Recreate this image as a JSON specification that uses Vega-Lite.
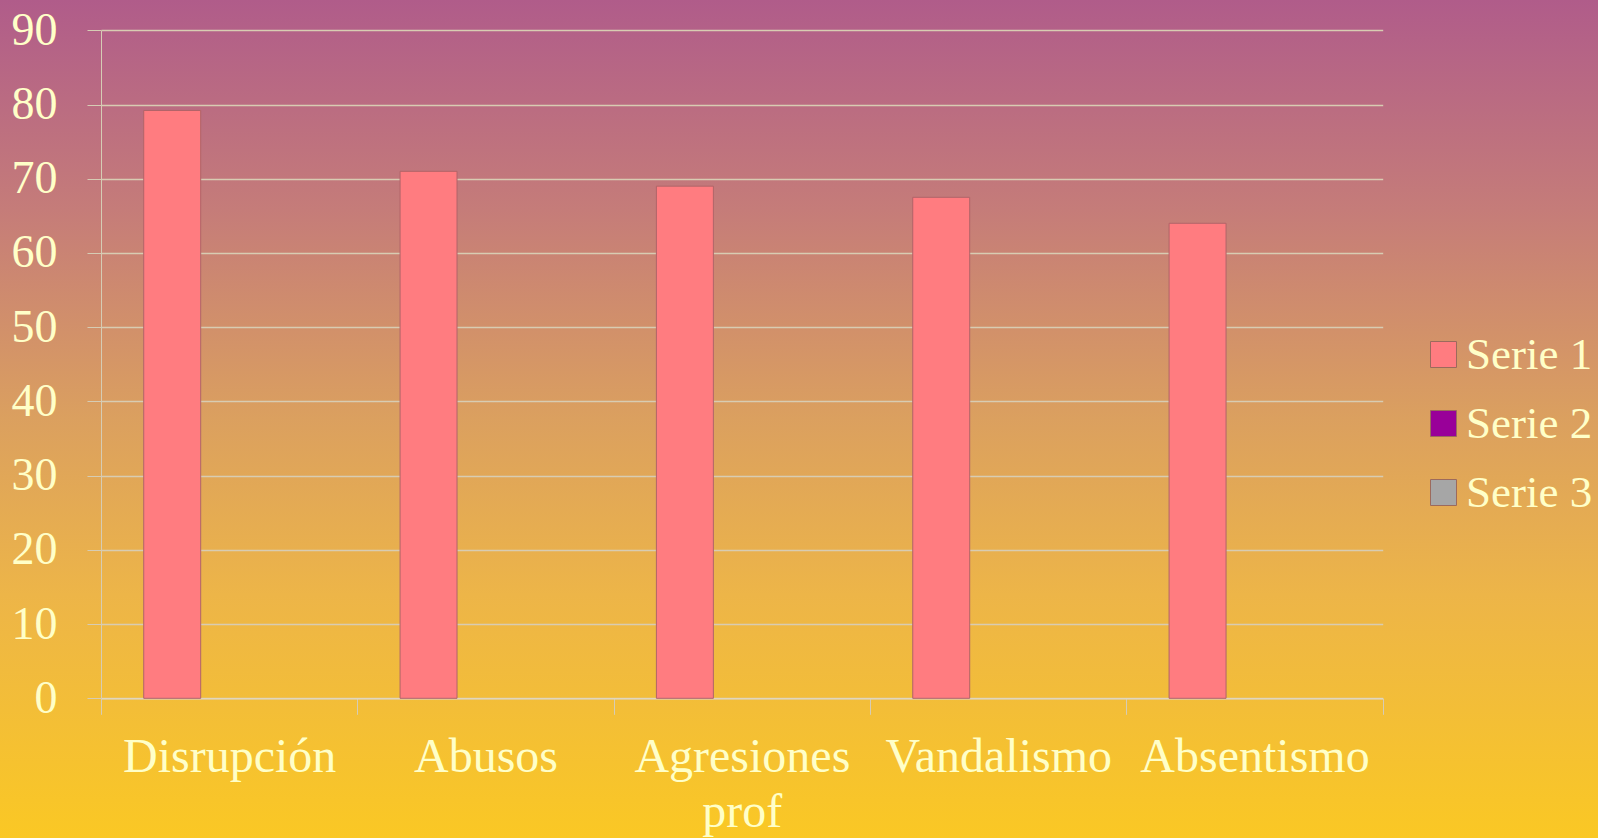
{
  "$schema": "https://vega.github.io/schema/vega-lite/v6.json",
  "width": 1598,
  "height": 838,
  "autosize": {"type": "none"},
  "padding": 0,
  "background": "#E0A860",
  "view": {
    "fill": {
      "gradient": "linear",
      "x1": 0, "y1": 0, "x2": 0, "y2": 1,
      "stops": [
        {"offset": 0, "color": "#B05C8A"},
        {"offset": 0.25, "color": "#C57C79"},
        {"offset": 0.5, "color": "#DBA05F"},
        {"offset": 0.71, "color": "#EDB548"},
        {"offset": 1, "color": "#FAC824"}
      ]
    },
    "stroke": null
  },
  "data": {
    "values": [
      {"categoria": "Disrupción", "serie": "Serie 1", "valor": 79.2},
      {"categoria": "Abusos", "serie": "Serie 1", "valor": 71},
      {"categoria": "Agresiones prof", "serie": "Serie 1", "valor": 69},
      {"categoria": "Vandalismo", "serie": "Serie 1", "valor": 67.5},
      {"categoria": "Absentismo", "serie": "Serie 1", "valor": 64}
    ]
  },
  "mark": {"type": "bar", "stroke": "#B06468", "strokeWidth": 1},
  "encoding": {
    "x": {
      "field": "categoria",
      "type": "nominal",
      "sort": null,
      "scale": {"range": [101, 1382.7], "paddingInner": 0, "paddingOuter": 0},
      "axis": {
        "title": null,
        "tickBand": "extent",
        "offset": -139.7,
        "tickSize": 16,
        "tickColor": "#D6CCB4",
        "domainColor": "#E0D6BE",
        "domainWidth": 1.5,
        "labelPadding": 19.5,
        "labelFont": "Liberation Serif",
        "labelFontSize": 48,
        "labelColor": "#FFFFC8",
        "labelLineHeight": 55,
        "labelLimit": 0,
        "labelOverlap": false,
        "labelAngle": 0,
        "labelExpr": "datum.value == 'Agresiones prof' ? ['Agresiones', 'prof'] : datum.value",
        "grid": false
      }
    },
    "xOffset": {
      "field": "serie",
      "type": "nominal",
      "scale": {"domain": ["Serie 1", "Serie 2", "Serie 3"], "paddingInner": 0, "paddingOuter": 0.75}
    },
    "y": {
      "field": "valor",
      "type": "quantitative",
      "scale": {"domain": [0, 90], "range": [698.3, 30.3], "nice": false, "zero": true},
      "axis": {
        "title": null,
        "values": [0, 10, 20, 30, 40, 50, 60, 70, 80, 90],
        "offset": -101,
        "tickSize": 14,
        "tickColor": "#D6CCB4",
        "domainColor": "#D6CCB4",
        "grid": true,
        "gridColor": "#D8CCB2",
        "gridWidth": 1.5,
        "labelPadding": 30,
        "labelFont": "Liberation Serif",
        "labelFontSize": 46,
        "labelColor": "#FFFFC8",
        "labelBaseline": "middle"
      }
    },
    "color": {
      "field": "serie",
      "type": "nominal",
      "scale": {"domain": ["Serie 1", "Serie 2", "Serie 3"], "range": ["#FF7C80", "#990099", "#A6A6A6"]},
      "legend": {
        "orient": "none",
        "legendX": 1421,
        "legendY": 332,
        "title": null,
        "padding": 0,
        "symbolType": "square",
        "symbolSize": 676,
        "symbolStrokeColor": "#9C6A5C",
        "symbolStrokeWidth": 1,
        "symbolOpacity": 1,
        "labelFont": "Liberation Serif",
        "labelFontSize": 45,
        "labelColor": "#FFFFC8",
        "labelOffset": 0,
        "labelLimit": 0,
        "rowPadding": 23
      }
    }
  }
}
